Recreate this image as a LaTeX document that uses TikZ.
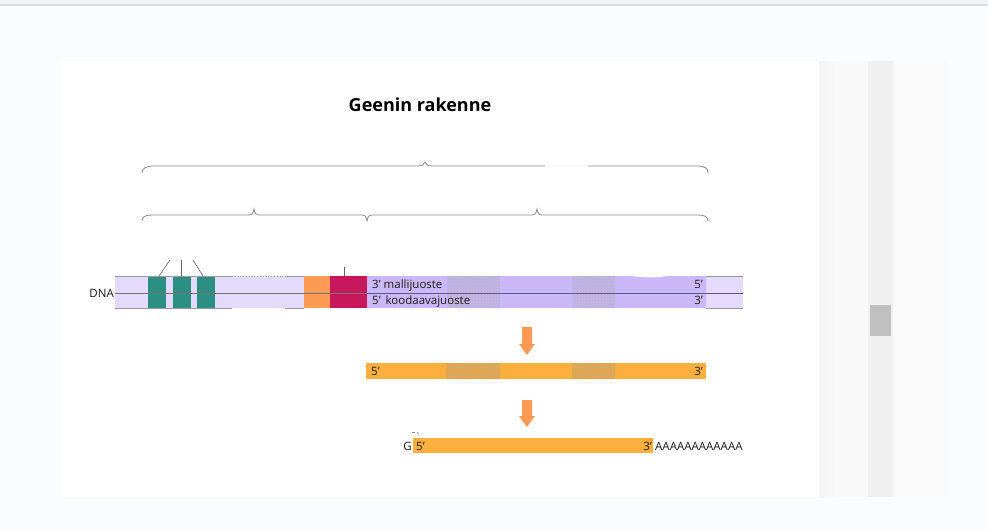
\documentclass[tikz,border=0pt]{standalone}
\usepackage{fontspec}
\setmainfont{Open Sans}
\usetikzlibrary{patterns}
\definecolor{pagebg}{HTML}{FAFCFE}
\definecolor{topbar}{HTML}{EEF2F5}
\definecolor{topline}{HTML}{D8DDE2}
\definecolor{lavlight}{HTML}{E3DAFC}
\definecolor{lavdark}{HTML}{CBB8F8}
\definecolor{lavtex}{HTML}{C2B4EA}
\definecolor{exonteal}{HTML}{2B8F84}
\definecolor{promorange}{HTML}{FF9A55}
\definecolor{crimson}{HTML}{C8185C}
\definecolor{rnaorange}{HTML}{FBAF3F}
\definecolor{rnatex}{HTML}{E6A546}
\definecolor{arroworange}{HTML}{FF9A55}
\definecolor{bracegray}{HTML}{8C8C8C}
\definecolor{edgegray}{HTML}{9A9A9A}
\definecolor{scrollA}{HTML}{F3F3F3}
\definecolor{scrollB}{HTML}{F9F9F9}
\definecolor{scrolltrack}{HTML}{F0F0F0}
\definecolor{scrollthumb}{HTML}{C0C0C0}
\definecolor{scrollside}{HTML}{FAFAFA}
\definecolor{txt}{HTML}{1A1A1A}
\tikzset{
  brace/.style={draw=bracegray, line width=0.8pt},
  edge/.style={draw=edgegray, line width=0.8pt},
  lbl/.style={font=\fontsize{11.5}{13}\selectfont, text=txt, inner sep=0pt},
  downarrow/.style={fill=arroworange, draw=none},
  texture/.style={pattern=crosshatch dots, pattern color=black!30}
}
\begin{document}
\begin{tikzpicture}[x=1pt,y=-1pt]
\useasboundingbox (0,0) rectangle (988,530);
% page
\fill[pagebg] (0,0) rectangle (988,530);
\fill[topbar] (0,0) rectangle (988,4);
\fill[topline] (0,4) rectangle (988,6);
\fill[white] (62,61) rectangle (820,497);
% scroll area
\shade[left color=scrollA, right color=scrollB] (819,61) rectangle (835,497);
\fill[scrollB] (835,61) rectangle (868,497);
\fill[scrolltrack] (868,61) rectangle (893,497);
\fill[scrollthumb] (870,305) rectangle (891,336);
\fill[scrollside] (893,61) rectangle (950,497);

% title
\node[font=\bfseries\fontsize{18}{21}\selectfont, text=black, anchor=base] (title) at (420,111) {Geenin rakenne};

% top brace
\draw[brace] (142,173) .. controls (142,168) and (146,166) .. (155,166) -- (417,166)
  .. controls (422,166) and (424,165) .. (425,162) .. controls (426,165) and (428,166) .. (433,166)
  -- (696,166) .. controls (705,166) and (708,168) .. (708,173);
\fill[white, opacity=0.8] (545,164) rectangle (588,168);
% lower brace
\draw[brace] (142,221) .. controls (142,217) and (145,215) .. (152,215) -- (248,215)
  .. controls (252,215) and (253,214) .. (254,209) .. controls (255,214) and (256,215) .. (260,215)
  -- (361,215) .. controls (365,215) and (366,216) .. (367,221) .. controls (368,216) and (369,215) .. (373,215)
  -- (531,215) .. controls (535,215) and (536,214) .. (537,209) .. controls (538,214) and (539,215) .. (543,215)
  -- (698,215) .. controls (705,215) and (708,217) .. (708,221);

% DNA light part
\fill[lavlight] (115,276) rectangle (304,308);
\fill[lavlight] (706,276) rectangle (743,308);
% exons
\fill[exonteal] (148,276) rectangle (166,308);
\fill[exonteal] (173,276) rectangle (191,308);
\fill[exonteal] (197,276) rectangle (215,308);
% promoter regions
\fill[promorange] (304,276) rectangle (330,308);
\fill[crimson] (330,276) rectangle (367,308);
% coding region
\fill[lavdark] (367,276) rectangle (706,308);
\fill[lavtex] (447,276) rectangle (500,308);
\fill[texture] (447,276) rectangle (500,308);
\fill[lavtex] (572,276) rectangle (615,308);
\fill[texture] (572,276) rectangle (615,308);
\fill[white] (620,275) .. controls (640,277) and (650,278) .. (660,277) .. controls (672,275) and (685,275) .. (702,276) -- (702,274) -- (620,274) -- cycle;
% edges
\draw[edge] (115,276) -- (232,276);
\draw[edge, dotted] (232,276) -- (285,276);
\draw[edge] (285,276) -- (304,276);
\draw[edge] (115,308) -- (232,308);
\draw[edge] (285,308) -- (304,308);
\draw[edge] (706,276) -- (743,276);
\draw[edge] (706,308) -- (743,308);
\draw[draw=black!55, line width=0.8pt] (115,293) -- (367,293);
\draw[draw=black!45!blue!30!gray, line width=0.8pt] (367,293) -- (743,293);
% exon pointer lines
\coordinate (p1) at (170,260);
\coordinate (p2) at (181,260);
\coordinate (p3) at (193,260);
\coordinate (q1) at (159,276);
\coordinate (q2) at (181,276);
\coordinate (q3) at (203,276);
\draw[draw=black!60, line width=0.6pt] (p1) -- (q1);
\draw[draw=black!60, line width=0.6pt] (p2) -- (q2);
\draw[draw=black!60, line width=0.6pt] (p3) -- (q3);
\coordinate (t1) at (344,267);
\coordinate (t2) at (344,276);
\draw[draw=black!60, line width=0.6pt] (t1) -- (t2);

% DNA labels
\node[lbl, anchor=base east] (dna) at (114,297) {DNA};
\node[lbl, anchor=base west] (temp) at (372,288) {3’ mallijuoste};
\node[lbl, anchor=base west] (cod) at (372,304) {5’\, koodaavajuoste};
\node[lbl, anchor=base east] (t5) at (703,288) {5’};
\node[lbl, anchor=base east] (c3) at (703,304) {3’};

% arrow 1
\fill[downarrow] (522,327) -- (532,327) -- (532,344) -- (535,344) -- (527,355) -- (519,344) -- (522,344) -- cycle;

% pre-mRNA
\fill[rnaorange] (366,363) rectangle (706,379);
\fill[rnatex] (446,363) rectangle (500,379);
\fill[texture] (446,363) rectangle (500,379);
\fill[rnatex] (572,363) rectangle (615,379);
\fill[texture] (572,363) rectangle (615,379);
\node[lbl, anchor=base west] (pre5) at (371,375) {5’};
\node[lbl, anchor=base east] (pre3) at (703,375) {3’};

% arrow 2
\fill[downarrow] (522,400) -- (532,400) -- (532,416) -- (535,416) -- (527,427) -- (519,416) -- (522,416) -- cycle;

% mature mRNA
\fill[rnaorange] (413,438) rectangle (653,453);
\node[lbl, anchor=base east] (cap) at (412,450) {G};
\node[lbl, anchor=base west] (m5) at (416,450) {5’};
\node[lbl, anchor=base east] (m3) at (652,450) {3’};
\node[lbl, anchor=base west] (polya) at (655,450) {AAAAAAAAAAAA};
\draw[draw=black!50, line width=0.6pt] (412,432) -- (415,432);
\draw[draw=black!50, line width=0.6pt] (417,432.5) -- (419,433.5);
\end{tikzpicture}
\end{document}
